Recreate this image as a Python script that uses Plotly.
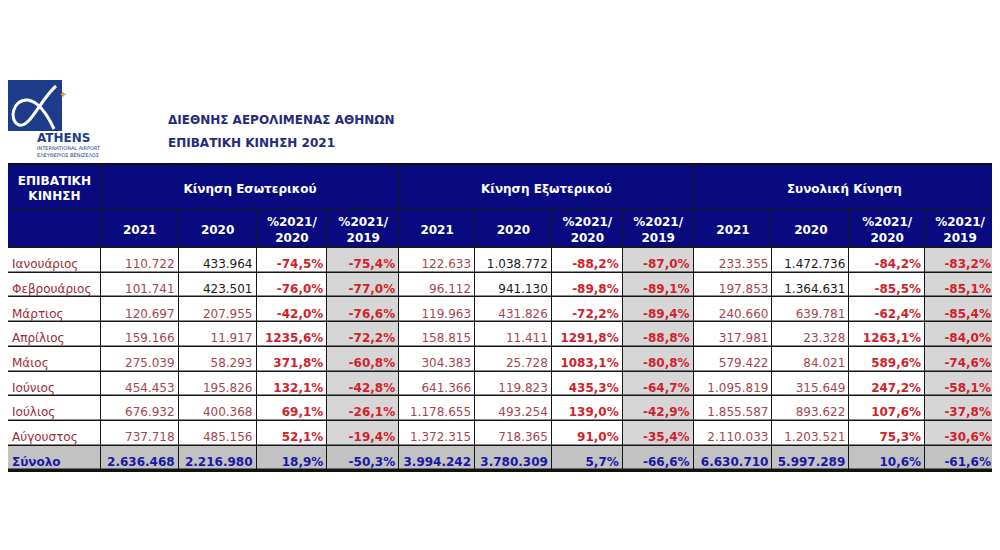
import plotly.graph_objects as go

# ── Data (Jan–Aug 2021, passengers) ─────────────────────────────
months = ["Ιανουάριος", "Φεβρουάριος", "Μάρτιος", "Απρίλιος",
          "Μάιος", "Ιούνιος", "Ιούλιος", "Αύγουστος"]

dom_2021 = [110722, 101741, 120697, 159166, 275039, 454453, 676932, 737718]
dom_2020 = [433964, 423501, 207955, 11917, 58293, 195826, 400368, 485156]
dom_pct_20 = [-74.5, -76.0, -42.0, 1235.6, 371.8, 132.1, 69.1, 52.1]
dom_pct_19 = [-75.4, -77.0, -76.6, -72.2, -60.8, -42.8, -26.1, -19.4]

int_2021 = [122633, 96112, 119963, 158815, 304383, 641366, 1178655, 1372315]
int_2020 = [1038772, 941130, 431826, 11411, 25728, 119823, 493254, 718365]
int_pct_20 = [-88.2, -89.8, -72.2, 1291.8, 1083.1, 435.3, 139.0, 91.0]
int_pct_19 = [-87.0, -89.1, -89.4, -88.8, -80.8, -64.7, -42.9, -35.4]

tot_2021 = [233355, 197853, 240660, 317981, 579422, 1095819, 1855587, 2110033]
tot_2020 = [1472736, 1364631, 639781, 23328, 84021, 315649, 893622, 1203521]
tot_pct_20 = [-84.2, -85.5, -62.4, 1263.1, 589.6, 247.2, 107.6, 75.3]
tot_pct_19 = [-83.2, -85.1, -85.4, -84.0, -74.6, -58.1, -37.8, -30.6]

# Σύνολο row: 2021, 2020, %2021/2020, %2021/2019
dom_total = [2636468, 2216980, 18.9, -50.3]
int_total = [3994242, 3780309, 5.7, -66.6]
tot_total = [6630710, 5997289, 10.6, -61.6]

corner_header = "ΕΠΙΒΑΤΙΚΗ<br>ΚΙΝΗΣΗ"
groups = ["Κίνηση Εσωτερικού", "Κίνηση Εξωτερικού", "Συνολική Κίνηση"]
sub_headers = ["2021", "2020", "%2021/<br>2020", "%2021/<br>2019"]
total_label = "Σύνολο"
titles = ["ΔΙΕΘΝΗΣ ΑΕΡΟΛΙΜΕΝΑΣ ΑΘΗΝΩΝ", "ΕΠΙΒΑΤΙΚΗ ΚΙΝΗΣΗ 2021"]

# ── Styling ─────────────────────────────────────────────────────
NAVY = "#0a0a80"
GRID = "#151515"
GREY_COL = "#d6d6d6"
GREY_TOT = "#c2c2c2"
MONTH_RED = "#9e2a36"
NUM_RED = "#a44650"
PCT_RED = "#d21f2b"
TOT_BLUE = "#1818a8"
LOGO_BLUE = "#1f3c8c"
FONT = "DejaVu Sans"

col_w = [93, 78, 78, 71, 72, 76, 77, 71, 71, 79, 77, 76, 70]
TAB_L, TAB_R = 8, 995          # window pixels
TOP = 165
H1, H2, ROW_H = 45, 38, 24.7
OFF = 8                        # page body margin
PAD = 4
TEXT_DROP = 0.7                # body text sits low in its row (as in Excel)


def px(x):
    return max(0, (x - OFF) / 1000)


def py(y):
    return 1 - (y - OFF) / 550


def fmt_int(v):
    return f"{v:,}".replace(",", ".")


def fmt_pct(v):
    return f"{v:.1f}%".replace(".", ",")


n = len(months)

# ── Cell texts / colours, column by column ──────────────────────
columns = [list(months) + [f"<b>{total_label}</b>"]]
colors = [[MONTH_RED] * n + [TOT_BLUE]]
for y21, y20, p20, p19, tot in [
    (dom_2021, dom_2020, dom_pct_20, dom_pct_19, dom_total),
    (int_2021, int_2020, int_pct_20, int_pct_19, int_total),
    (tot_2021, tot_2020, tot_pct_20, tot_pct_19, tot_total),
]:
    columns.append([fmt_int(v) for v in y21] + [f"<b>{fmt_int(tot[0])}</b>"])
    columns.append([fmt_int(v) for v in y20] + [f"<b>{fmt_int(tot[1])}</b>"])
    columns.append([f"<b>{fmt_pct(v)}</b>" for v in p20] + [f"<b>{fmt_pct(tot[2])}</b>"])
    columns.append([f"<b>{fmt_pct(v)}</b>" for v in p19] + [f"<b>{fmt_pct(tot[3])}</b>"])
    colors.append([NUM_RED] * n + [TOT_BLUE])
    # pre-pandemic months of 2020 are shown in black
    colors.append(["#1a1a1a"] * 2 + [NUM_RED] * (n - 2) + [TOT_BLUE])
    colors.append([PCT_RED] * n + [TOT_BLUE])
    colors.append([PCT_RED] * n + [TOT_BLUE])

# ── Table geometry (window pixels) ──────────────────────────────
scale = (TAB_R - TAB_L) / sum(col_w)
x_edges = [TAB_L]
for w in col_w:
    x_edges.append(x_edges[-1] + w * scale)
group_edges = [x_edges[0], x_edges[1], x_edges[5], x_edges[9], x_edges[13]]

y_edges = [TOP + H1, TOP + H1 + H2]
for _ in range(n + 1):
    y_edges.append(y_edges[-1] + ROW_H)
BOTTOM = y_edges[-1]

# fill codes: 0 white, 1 grey column, 2 grey total row, 3 navy header
fill_z = [[3] * len(col_w)]
for r in range(n):
    fill_z.append([1 if (c > 0 and c % 4 == 0) else 0 for c in range(len(col_w))])
fill_z.append([2] * len(col_w))
fill_scale = [[0, "white"], [1 / 3, GREY_COL], [2 / 3, GREY_TOT], [1, NAVY]]

fig = go.Figure()

# group header row (merged cells)
fig.add_trace(go.Heatmap(
    x=group_edges, y=[TOP, TOP + H1], z=[[3, 3, 3, 3]],
    zmin=0, zmax=3, colorscale=fill_scale, showscale=False,
    xgap=1, ygap=1, hoverinfo="skip",
))
# sub header + body
fig.add_trace(go.Heatmap(
    x=x_edges, y=y_edges, z=fill_z,
    zmin=0, zmax=3, colorscale=fill_scale, showscale=False,
    xgap=1, ygap=1.5, hoverinfo="skip",
))

# header labels
hx, hy, ht = [], [], []
hx.append((x_edges[0] + x_edges[1]) / 2)
hy.append(TOP + H1 / 2 + 2)
ht.append(f"<b>{corner_header}</b>")
for i, g in enumerate(groups):
    hx.append((group_edges[i + 1] + group_edges[i + 2]) / 2)
    hy.append(TOP + H1 / 2 + 2)
    ht.append(f"<b>{g}</b>")
for j in range(12):
    hx.append((x_edges[j + 1] + x_edges[j + 2]) / 2)
    hy.append(TOP + H1 + H2 / 2 + 2)
    ht.append(f"<b>{sub_headers[j % 4]}</b>")
fig.add_trace(go.Scatter(
    x=hx, y=hy, text=ht, mode="text", textposition="middle center",
    textfont=dict(family=FONT, size=12, color="white"),
    hoverinfo="skip", showlegend=False,
))

# body cells
lx, ly, lt, lc = [], [], [], []
rx, ry, rt, rc = [], [], [], []
for c, (vals, cols) in enumerate(zip(columns, colors)):
    for r, (v, col) in enumerate(zip(vals, cols)):
        yc = y_edges[r + 1] + ROW_H * TEXT_DROP
        if c == 0:
            lx.append(x_edges[0] + PAD); ly.append(yc); lt.append(v); lc.append(col)
        else:
            rx.append(x_edges[c + 1] - PAD); ry.append(yc); rt.append(v); rc.append(col)
fig.add_trace(go.Scatter(
    x=lx, y=ly, text=lt, mode="text", textposition="middle right",
    textfont=dict(family=FONT, size=12, color=lc),
    hoverinfo="skip", showlegend=False,
))
fig.add_trace(go.Scatter(
    x=rx, y=ry, text=rt, mode="text", textposition="middle left",
    textfont=dict(family=FONT, size=12, color=rc),
    hoverinfo="skip", showlegend=False,
))

# ── Logo ────────────────────────────────────────────────────────
fig.add_shape(type="rect", xref="paper", yref="paper",
              x0=px(8), x1=px(62), y0=py(131), y1=py(80),
              fillcolor=LOGO_BLUE, line_width=0)
fig.add_shape(type="path", xref="paper", yref="paper",
              path=(f"M {px(56)} {py(86)} C {px(40)} {py(100)}, {px(30)} {py(128)}, {px(19)} {py(125)} "
                    f"C {px(8.5)} {py(121)}, {px(12)} {py(99)}, {px(28)} {py(100)} "
                    f"C {px(40)} {py(102)}, {px(48)} {py(116)}, {px(54)} {py(129)}"),
              line=dict(color="white", width=3))
fig.add_annotation(x=px(57), y=py(85), xref="paper", yref="paper", text="✦",
                   showarrow=False, font=dict(size=10, color="#f0a030"))
fig.add_annotation(x=px(35), y=py(138), xref="paper", yref="paper",
                   text="<b>ATHENS</b>", showarrow=False, yanchor="middle",
                   font=dict(family=FONT, size=12, color=LOGO_BLUE))
fig.add_annotation(x=px(35), y=py(148), xref="paper", yref="paper",
                   text="INTERNATIONAL AIRPORT", showarrow=False, yanchor="middle",
                   font=dict(family=FONT, size=5, color=LOGO_BLUE))
fig.add_annotation(x=px(35), y=py(155), xref="paper", yref="paper",
                   text="ΕΛΕΥΘΕΡΙΟΣ ΒΕΝΙΖΕΛΟΣ", showarrow=False, yanchor="middle",
                   font=dict(family=FONT, size=5, color=LOGO_BLUE))

# ── Titles ──────────────────────────────────────────────────────
for text, ypix in zip(titles, [120, 143]):
    fig.add_annotation(x=px(166), y=py(ypix), xref="paper", yref="paper",
                       xanchor="left", yanchor="middle", text=f"<b>{text}</b>",
                       showarrow=False,
                       font=dict(family=FONT, size=12, color="#252b7a"))

axis_style = dict(showgrid=False, zeroline=False, showticklabels=False, ticks="",
                  showline=True, mirror=True, linecolor="#111111", linewidth=1.5,
                  fixedrange=True)
fig.update_xaxes(range=[TAB_L, TAB_R], domain=[px(TAB_L), px(TAB_R)], **axis_style)
fig.update_yaxes(range=[BOTTOM, TOP], domain=[py(BOTTOM), py(TOP)], **axis_style)

fig.update_layout(
    width=1000, height=550,
    margin=dict(l=0, r=0, t=0, b=0),
    paper_bgcolor="white",
    plot_bgcolor=GRID,
    showlegend=False,
)

fig.write_html("out.html")
